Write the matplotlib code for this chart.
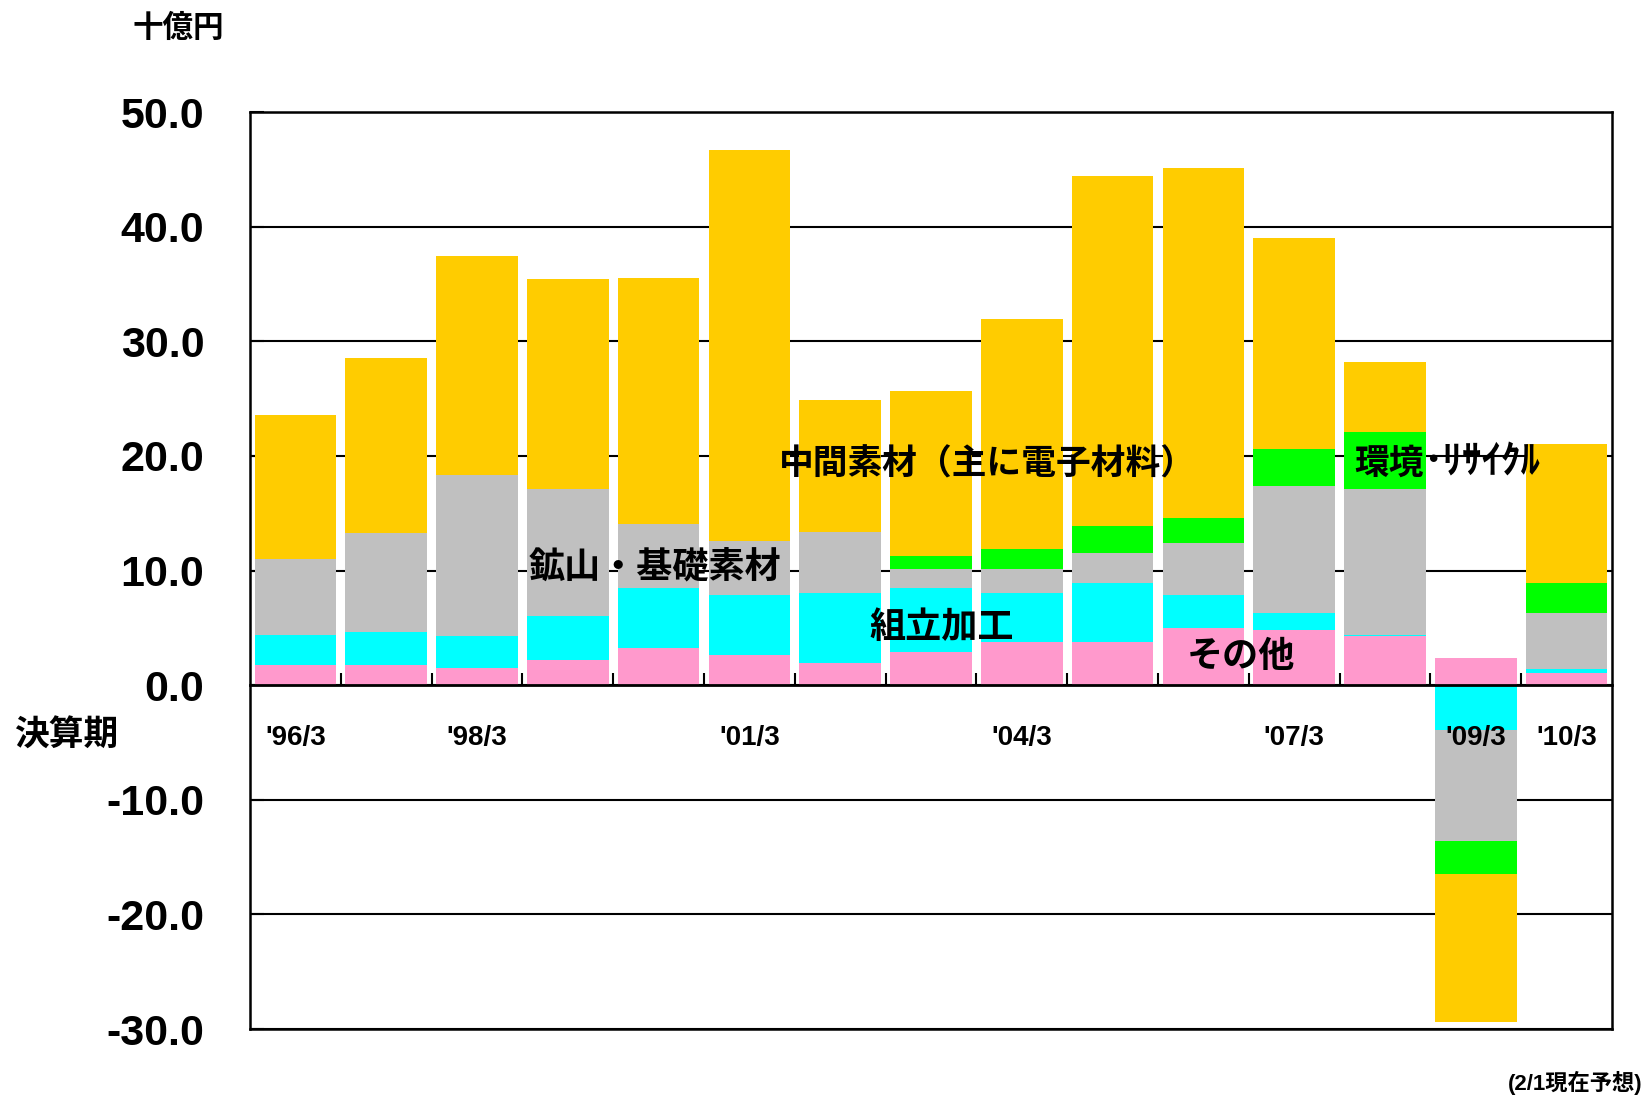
import numpy as np
import matplotlib.pyplot as plt

# 決算期ごとのセグメント別営業利益（十億円）
periods = ["'96/3", "'97/3", "'98/3", "'99/3", "'00/3", "'01/3", "'02/3", "'03/3",
           "'04/3", "'05/3", "'06/3", "'07/3", "'08/3", "'09/3", "'10/3"]
shown_labels = ["'96/3", "'98/3", "'01/3", "'04/3", "'07/3", "'09/3", "'10/3"]

other = [1.8, 1.8, 1.5, 2.2, 3.2, 2.6, 1.9, 2.9, 3.8, 3.8, 5.0, 4.8, 4.25, 2.4, 1.1]
assembly = [2.6, 2.8, 2.8, 3.8, 5.3, 5.3, 6.1, 5.6, 4.2, 5.1, 2.9, 1.5, 0.15, -3.9, 0.3]
basic = [6.6, 8.7, 14.0, 11.1, 5.6, 4.7, 5.4, 1.6, 2.1, 2.6, 4.5, 11.1, 12.7, -9.7, 4.9]
env = [0, 0, 0, 0, 0, 0, 0, 1.2, 1.8, 2.4, 2.2, 3.2, 5.0, -2.9, 2.6]
intermediate = [12.6, 15.2, 19.1, 18.3, 21.4, 34.1, 11.5, 14.4, 20.0, 30.5, 30.5, 18.4, 6.1, -12.9, 12.1]

series = [other, assembly, basic, env, intermediate]
colors = ['#FF99CC', '#00FFFF', '#C0C0C0', '#00FF00', '#FFCC00']

plt.rcParams['font.family'] = ['Liberation Sans', 'Noto Sans CJK JP']
plt.rcParams['font.weight'] = 'bold'

fig = plt.figure(figsize=(16.46, 10.96), dpi=100)
ax = fig.add_axes([0.1519, 0.0611, 0.8274, 0.8367])

x = np.arange(len(periods))
pos_bottom = np.zeros(len(periods))
neg_bottom = np.zeros(len(periods))
for vals, c in zip(series, colors):
    v = np.array(vals, dtype=float)
    bottom = np.where(v >= 0, pos_bottom, neg_bottom)
    ax.bar(x, v, width=0.9, bottom=bottom, color=c, zorder=2)
    pos_bottom += np.where(v >= 0, v, 0)
    neg_bottom += np.where(v < 0, v, 0)

ymin, ymax = -30, 50
ax.set_xlim(-0.5, len(periods) - 0.5)
ax.set_ylim(ymin, ymax)
ax.set_yticks(np.arange(-30, 51, 10))
ax.set_yticklabels([f'{t:.1f}' for t in np.arange(-30, 51, 10)], fontsize=31, fontweight='bold')
ax.tick_params(axis='y', direction='in', length=10, width=1.5, pad=33)
ax.yaxis.grid(True, color='black', linewidth=1.5, zorder=0)
ax.set_axisbelow(True)
for s in ax.spines.values():
    s.set_linewidth(1.8)
ax.set_xticks([])

# 0 の位置のカテゴリ軸
sec = ax.secondary_xaxis((0 - ymin) / (ymax - ymin))
sec.set_zorder(6)
sec.spines['bottom'].set_linewidth(2)
sec.set_xticks(x)
sec.set_xticklabels([p if p in shown_labels else '' for p in periods], fontsize=20, fontweight='bold')
sec.tick_params(axis='x', which='major', length=0, pad=29)
sec.set_xticks(x[:-1] + 0.5, minor=True)
sec.tick_params(axis='x', which='minor', direction='in', length=9, width=1.5)

# セグメント名
ax.text(5.33, 19.2, '中間素材（主に電子材料）', fontsize=25, fontweight='bold', va='center', ha='left', zorder=5)
ax.text(2.57, 10.1, '鉱山・基礎素材', fontsize=26, fontweight='bold', va='center', ha='left', zorder=5)
ax.text(6.32, 4.9, '組立加工', fontsize=26, fontweight='bold', va='center', ha='left', zorder=5)
ax.text(9.82, 2.4, 'その他', fontsize=26, fontweight='bold', va='center', ha='left', zorder=5)
t_env = ax.text(11.66, 19.3, '環境', fontsize=25, fontweight='bold', va='center', ha='left', zorder=5)
ax.annotate('･ﾘｻｲｸﾙ', xy=(1, 0.5), xycoords=t_env, fontsize=28, fontweight='bold',
            va='center', ha='left', zorder=5)

fig.text(0.108, 0.974, '十億円', fontsize=22, fontweight='bold', ha='center', va='center')
fig.text(0.040, 0.328, '決算期', fontsize=25, fontweight='bold', ha='center', va='center')
fig.text(0.998, 0.012, '(2/1現在予想)', fontsize=16, fontweight='bold', ha='right', va='center')

fig.savefig('out.png', dpi=100)
